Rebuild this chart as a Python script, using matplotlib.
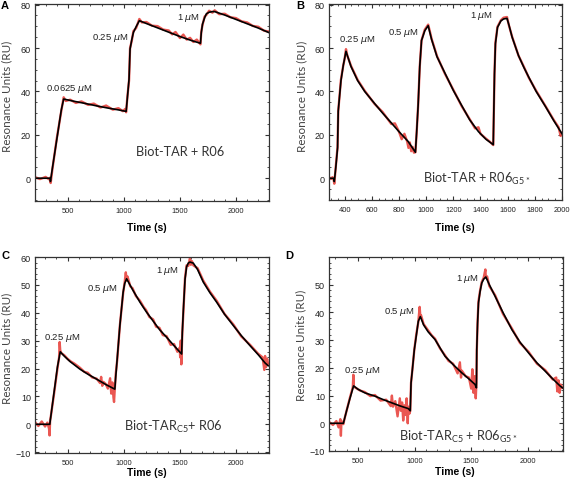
import numpy as np
import matplotlib
matplotlib.use("Agg")
import matplotlib.pyplot as plt
from matplotlib.ticker import MultipleLocator, FixedLocator

plt.rcParams['font.family'] = ['Liberation Sans', 'DejaVu Sans']
plt.rcParams['mathtext.fontset'] = 'custom'
plt.rcParams['mathtext.rm'] = 'Lato'
plt.rcParams['mathtext.it'] = 'DejaVu Sans:italic'

# ---- panel A : Biot-TAR + R06 ----
A_fit_t = [205, 340, 343, 360, 400, 440, 461, 550, 650, 750, 850, 950, 1019, 1030, 1045, 1054, 1070, 1084,
           1108, 1137, 1200, 1300, 1400, 1500, 1600, 1683, 1690, 1701, 1720, 1736, 1760, 1790, 1810, 1900,
           2000, 2100, 2200, 2295]
A_fit_y = [0, 0, -1.5, 4.5, 18, 31.5, 36.5, 35.5, 34.5, 33.4, 32.4, 31.5, 30.8, 37, 45.7, 59.5, 64, 67.2,
           69.8, 72.6, 71.3, 69.3, 67.3, 65.3, 63.5, 62.2, 67, 71, 74, 75.8, 76.5, 76.8, 76.8, 75.2,
           73.2, 71.2, 69.2, 67.1]
A_raw_t = [205, 250, 300, 330, 340, 345, 360, 400, 440, 461, 480, 520, 570, 620, 680, 730, 790, 840, 900,
           950, 990, 1010, 1019, 1030, 1045, 1054, 1070, 1084, 1108, 1137, 1160, 1200, 1250, 1300, 1350,
           1400, 1430, 1460, 1500, 1530, 1560, 1590, 1620, 1650, 1683, 1690, 1701, 1720, 1736, 1760, 1790,
           1810, 1850, 1900, 1950, 2000, 2050, 2100, 2150, 2200, 2250, 2295]
A_raw_y = [0.5, -0.4, 0.6, -0.5, 0.3, -2.2, 4, 18.5, 31, 37.3, 35.6, 36.2, 34.7, 35.4, 33.8, 34.4, 32.6,
           33.5, 31.6, 32.3, 30.9, 31.9, 30.4, 37.5, 45, 60, 63.5, 67.8, 69.2, 73.4, 71.8, 72, 70.3, 70.1,
           68.5, 68.1, 66.3, 67.4, 64.6, 66.2, 63.9, 64.7, 62.8, 63.9, 61.7, 67.5, 70.6, 74.5, 75.3, 77.2,
           76.3, 77.4, 75.6, 75.8, 74.2, 73.8, 72.3, 71.8, 70.2, 69.8, 68, 67.6]

# ---- panel B : Biot-TAR + R06 G5* ----
B_fit_t = [285, 318, 324, 335, 348, 353, 373, 390, 410, 447, 496, 548, 620, 680, 744, 800, 867, 921, 930,
           941, 953, 966, 990, 1015, 1040, 1080, 1138, 1200, 1262, 1320, 1385, 1440, 1494, 1498, 1503, 1510,
           1525, 1550, 1570, 1595, 1610, 1633, 1680, 1720, 1756, 1810, 1879, 1940, 2000]
B_fit_y = [0, 0, -1.5, 5, 14, 31, 45, 52, 58.5, 51.5, 45, 40, 34.5, 30, 25.5, 21.5, 17, 12, 21,
           33.5, 51.5, 63.5, 68, 70.3, 64, 56, 48.5, 40.5, 33.5, 27, 21.5, 18, 15.5, 30, 48, 62,
           69.5, 72.5, 73.4, 73.7, 70.5, 65, 56.5, 51, 46.5, 40, 33, 26.5, 20.5]
B_raw_t = [285, 300, 310, 318, 324, 335, 348, 353, 373, 390, 400, 410, 420, 447, 496, 548, 620, 680, 744,
           770, 800, 820, 840, 860, 870, 880, 890, 900, 910, 921, 930, 941, 953, 966, 990, 1015, 1030, 1040,
           1080, 1138, 1200, 1262, 1320, 1360, 1385, 1400, 1440, 1470, 1494, 1498, 1503, 1510, 1525, 1550,
           1570, 1595, 1610, 1633, 1680, 1720, 1756, 1810, 1879, 1940, 1975, 1990, 2000]
B_raw_y = [0.6, -0.3, 0.5, -0.2, -2.5, 5.5, 14.5, 31, 45.5, 52, 55, 59.5, 56.5, 51.8, 45.3, 40.3, 34.3,
           30.5, 25, 25.3, 21.5, 18, 20.5, 17, 14, 16.5, 12.5, 14.5, 11.8, 12, 21, 33.5, 51.5, 63.5, 68.5,
           70.8, 67, 64.3, 56.3, 48.2, 40.8, 33.2, 27.3, 23, 23.5, 20.5, 18.3, 16.8, 15.3, 30, 48, 62.5,
           69.8, 72.8, 74, 74.3, 70.3, 65.2, 56.5, 51.3, 46.3, 40.3, 33.2, 26.8, 23.5, 19.5, 21]

# ---- panel C : Biot-TAR C5 + R06 ----
C_fit_t = [210, 342, 350, 380, 410, 435, 470, 520, 610, 680, 759, 840, 922, 930, 943, 967, 996, 1010, 1027,
           1080, 1146, 1200, 1264, 1320, 1384, 1450, 1518, 1524, 1533, 1548, 1562, 1577, 1592, 1622, 1660,
           1711, 1770, 1830, 1900, 1979, 2050, 2128, 2200, 2262, 2290]
C_fit_y = [0, 0, 2.5, 11.5, 20.5, 26, 24.5, 22.6, 19.8, 18, 16.2, 14.3, 12.6, 17, 23.4, 35.4, 47.4, 50.5,
           52.2, 48.3, 43.8, 40.5, 37, 34, 31.2, 28.2, 25.2, 33, 40.8, 52, 56.5, 57.8, 58.2, 57.8, 55.5,
           51, 47.2, 43.8, 39.5, 35.4, 31.8, 28.2, 25, 22, 21]
C_raw_t = [210, 240, 270, 300, 320, 335, 340, 345, 350, 380, 410, 425, 430, 435, 445, 470, 500, 530, 560,
           610, 650, 680, 720, 759, 790, 800, 810, 820, 840, 860, 880, 890, 900, 910, 915, 922, 930, 943,
           967, 996, 1010, 1020, 1027, 1035, 1060, 1080, 1110, 1146, 1180, 1200, 1230, 1264, 1290, 1320,
           1350, 1384, 1420, 1450, 1480, 1500, 1505, 1510, 1515, 1518, 1524, 1533, 1548, 1562, 1577, 1592,
           1600, 1610, 1622, 1660, 1711, 1770, 1830, 1900, 1979, 2050, 2128, 2200, 2240, 2255, 2262, 2270,
           2280, 2290]
C_raw_y = [0.8, -0.6, 1, -0.8, 0.6, -1.5, -4, 1.5, 2.5, 11, 20, 24, 29.5, 26.5, 25.5, 24.8, 23.5, 22.5,
           21.8, 20.3, 18.8, 18.5, 16.8, 16.4, 14.8, 17, 13.8, 15.2, 14.5, 12.8, 16.5, 11, 15, 9.5, 8, 13,
           18, 23, 35.5, 47, 51, 54.5, 51.5, 53, 49.5, 48.8, 46, 44.3, 42, 41, 38.5, 37.6, 35, 34.6, 32,
           31.6, 28.5, 28.8, 26, 27.5, 24, 30, 21.5, 25.5, 33, 40, 52.5, 57, 56.8, 59.5, 57.2, 58.5, 57,
           56, 51.5, 47.6, 44.3, 39.6, 35.8, 31.5, 28.5, 25.3, 24, 19.5, 24.5, 20.5, 23.5, 21.5]

# ---- panel D : Biot-TAR C5 + R06 G5* ----
D_fit_t = [245, 372, 380, 400, 430, 462, 500, 560, 650, 720, 798, 870, 945, 962, 969, 980, 998, 1015, 1033,
           1051, 1080, 1120, 1181, 1225, 1269, 1340, 1417, 1480, 1534, 1546, 1549, 1556, 1564, 1578, 1593,
           1610, 1629, 1660, 1711, 1780, 1859, 1930, 2006, 2080, 2153, 2220, 2286, 2305]
D_fit_y = [0, 0, 1.3, 4.5, 9, 13.5, 12.3, 11, 9.8, 8.6, 7.4, 6.3, 5.3, 4.5, 14.6, 19, 26.6, 31.5, 36.8,
           38.5, 35.5, 33, 30.2, 27.2, 24.2, 21.2, 18.2, 16, 14, 12.8, 26.6, 36, 43.4, 47.5, 50.6,
           52, 52.8, 50, 45.8, 40, 33.8, 29.3, 25.4, 21.8, 18.8, 16, 13.4, 12.8]
D_raw_t = [245, 280, 310, 330, 345, 350, 355, 372, 380, 400, 430, 455, 460, 465, 480, 520, 560, 610, 650,
           700, 750, 790, 800, 810, 830, 850, 870, 880, 890, 900, 910, 920, 930, 940, 945, 955, 962, 969,
           980, 998, 1015, 1033, 1045, 1051, 1057, 1080, 1120, 1150, 1181, 1225, 1269, 1300, 1340, 1380,
           1400, 1410, 1417, 1450, 1480, 1500, 1510, 1520, 1530, 1540, 1546, 1549, 1556, 1564, 1578, 1593,
           1610, 1625, 1629, 1640, 1660, 1711, 1780, 1859, 1930, 2006, 2080, 2153, 2220, 2250, 2260, 2270,
           2280, 2290, 2305]
D_raw_y = [0.5, -0.6, 0.8, -1.5, 1.5, -4.5, 0.8, -0.3, 1.3, 4.5, 9.3, 13, 17.5, 13.2, 12.8, 11.8, 11.3,
           9.8, 10.2, 8.2, 8.5, 6.2, 10, 6, 8, 2.5, 9, 4.5, 7.5, 1, 6.5, 3, 9, 0, 6, 3.5, 4.5, 14.6, 19,
           26.6, 32, 36.5, 42, 38.5, 39, 35.8, 33.5, 31.8, 30.5, 27, 24.5, 22.5, 21.5, 18, 22, 16.5, 19,
           17, 16.5, 12.5, 19.5, 11, 17, 9, 14.5, 26, 36.5, 44, 47.8, 51, 52.5, 55.5, 52.5, 53, 49.5, 46.2,
           39.5, 34.2, 29, 25.8, 21.5, 19.2, 15.8, 16.5, 11.5, 15.5, 11, 14, 12.8]

W, H = 572.0, 489.0
fig = plt.figure(figsize=(W / 100, H / 100), dpi=100)


def px(x, y):
    return x / W, 1 - y / H


def make_axes(l, t, r, b):
    ax = fig.add_axes([l / W, 1 - b / H, (r - l) / W, (b - t) / H])
    for s in ax.spines.values():
        s.set_linewidth(0.9)
        s.set_color('#333333')
    ax.tick_params(which='both', direction='in', top=True, right=True, color='#333333')
    ax.tick_params(which='major', length=3, width=0.8)
    ax.tick_params(which='minor', length=1.6, width=0.6)
    ax.tick_params(axis='x', labelsize=5.4, pad=4, labelcolor='#222222')
    ax.tick_params(axis='y', labelsize=6.5, pad=3, labelcolor='#222222')
    return ax


def draw(ax, rt, ry, ft, fy):
    ax.plot(rt, ry, color='#e8453f', lw=1.7, alpha=0.9, solid_joinstyle='round')
    ax.plot(ft, fy, color='black', lw=1.2)


def conc(ax, x, y, s):
    ax.text(x, y, s, fontsize=6.8, ha='center', va='center', color='#222222')


big = dict(family=['Lato', 'DejaVu Sans'], fontsize=9.2, color='#333333', ha='center', va='center')
ylab = dict(family=['Lato', 'DejaVu Sans'], fontsize=8.4, color='#444444', rotation=90,
            ha='center', va='center')
xlab = dict(fontsize=7.5, fontweight='bold', ha='center', va='center')
letter = dict(fontsize=8, fontweight='bold', ha='left', va='top')

# A
axA = make_axes(35, 5, 269, 202)
draw(axA, A_raw_t, A_raw_y, A_fit_t, A_fit_y)
axA.set_xlim(205, 2295)
axA.set_ylim(-10.5, 80.3)
axA.xaxis.set_major_locator(FixedLocator([500, 1000, 1500, 2000]))
axA.xaxis.set_minor_locator(MultipleLocator(100))
axA.yaxis.set_major_locator(FixedLocator([0, 20, 40, 60, 80]))
axA.yaxis.set_minor_locator(MultipleLocator(5))
conc(axA, 512, 41.5, r'0.0625 $\mu$M')
conc(axA, 876, 65, r'0.25 $\mu$M')
conc(axA, 1573, 74.2, r'1 $\mu$M')
axA.text(1499, 12.6, 'Biot-TAR + R06', **big)

# B
axB = make_axes(329, 5, 562, 201)
draw(axB, B_raw_t, B_raw_y, B_fit_t, B_fit_y)
axB.set_xlim(285, 2000)
axB.set_ylim(-10, 80.3)
axB.xaxis.set_major_locator(MultipleLocator(200))
axB.xaxis.set_minor_locator(MultipleLocator(50))
axB.yaxis.set_major_locator(FixedLocator([0, 20, 40, 60, 80]))
axB.yaxis.set_minor_locator(MultipleLocator(5))
conc(axB, 492, 64.1, r'0.25 $\mu$M')
conc(axB, 833, 67.2, r'0.5 $\mu$M')
conc(axB, 1405, 75.2, r'1 $\mu$M')
axB.text(1376, 0, r'Biot-TAR + R06$_{\mathrm{G5*}}$', **big)

# C
axC = make_axes(35, 258, 269, 454)
draw(axC, C_raw_t, C_raw_y, C_fit_t, C_fit_y)
axC.set_xlim(210, 2297)
axC.set_ylim(-10.3, 60)
axC.xaxis.set_major_locator(FixedLocator([500, 1000, 1500, 2000]))
axC.xaxis.set_minor_locator(MultipleLocator(100))
axC.yaxis.set_major_locator(MultipleLocator(10))
axC.yaxis.set_minor_locator(MultipleLocator(2))
conc(axC, 455, 31.4, r'0.25 $\mu$M')
conc(axC, 812, 48.9, r'0.5 $\mu$M')
conc(axC, 1389, 55.2, r'1 $\mu$M')
axC.text(1440, -0.6, r'Biot-TAR$_{\mathrm{C5}}$+ R06', **big)

# D
axD = make_axes(329, 258, 563, 452)
draw(axD, D_raw_t, D_raw_y, D_fit_t, D_fit_y)
axD.set_xlim(245, 2310)
axD.set_ylim(-10, 60)
axD.xaxis.set_major_locator(FixedLocator([500, 1000, 1500, 2000]))
axD.xaxis.set_minor_locator(MultipleLocator(100))
axD.yaxis.set_major_locator(FixedLocator([-10, 0, 10, 20, 30, 40, 50]))
axD.yaxis.set_minor_locator(MultipleLocator(2))
conc(axD, 535, 19.1, r'0.25 $\mu$M')
conc(axD, 865, 40.4, r'0.5 $\mu$M')
conc(axD, 1464, 52.4, r'1 $\mu$M')
axD.text(1390, -4.6, r'Biot-TAR$_{\mathrm{C5}}$ + R06$_{\mathrm{G5*}}$', **big)

# axis titles and panel letters
for (lx, ly), (xx, xy), (tx, ty), L in [((7, 96), (147, 228), (1, 1), 'A'),
                                        ((302, 96), (455, 228), (296, 1), 'B'),
                                        ((7, 348), (147, 473), (1, 251), 'C'),
                                        ((301, 345), (455, 472), (285, 251), 'D')]:
    fig.text(*px(lx, ly), 'Resonance Units (RU)', **ylab)
    fig.text(*px(xx, xy), 'Time (s)', **xlab)
    fig.text(*px(tx, ty), L, **letter)

fig.savefig('out.png', dpi=100)
